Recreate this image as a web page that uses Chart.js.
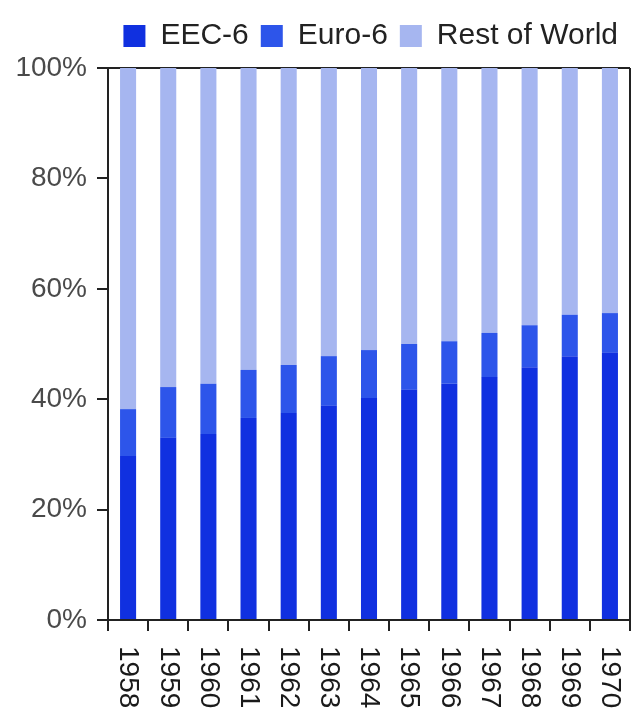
<!DOCTYPE html>
<html lang="en">
<head>
    <meta charset="UTF-8">
    <title>EEC-6 / Euro-6 / Rest of World</title>
    <script src="https://cdn.jsdelivr.net/npm/chart.js"></script>
    <style>
        body {
            margin: 0;
            background: #fff;
        }
        .chart-container {
            position: relative;
            width: 633px;
            height: 710px;
        }
    </style>
</head>
<body>

<div class="chart-container">
    <canvas id="myChart"></canvas>
</div>

<script>
    // values (share of total, %)
    const years = ['1958', '1959', '1960', '1961', '1962', '1963', '1964',
                   '1965', '1966', '1967', '1968', '1969', '1970'];
    const eec6 = [29.7, 33.0, 33.7, 36.6, 37.5, 38.8, 40.2, 41.7, 42.8, 44.0, 45.8, 47.8, 48.4];
    const euro6 = [8.5, 9.2, 9.1, 8.7, 8.7, 9.0, 8.7, 8.3, 7.7, 8.0, 7.6, 7.5, 7.2];
    const restOfWorld = [61.8, 57.8, 57.2, 54.7, 53.8, 52.2, 51.1, 50.0, 49.5, 48.0, 46.6, 44.7, 44.4];
    const yTicks = [0, 20, 40, 60, 80, 100];

    const axisColor = '#222';

    // a bit more room between the legend and the plot
    const legendGap = {
        id: 'legendGap',
        beforeUpdate(chart) {
            const lg = chart.legend;
            if (lg && !lg._gapAdded) {
                const fit = lg.fit.bind(lg);
                lg.fit = function () {
                    fit();
                    this.height += 7;
                };
                lg._gapAdded = true;
            }
        }
    };

    // year labels run top-to-bottom under each bar
    const downLabels = {
        id: 'downLabels',
        afterDraw(chart) {
            const xs = chart.scales.x;
            const ctx = chart.ctx;
            ctx.save();
            ctx.font = '28px "Liberation Sans", Arial, sans-serif';
            ctx.fillStyle = '#1a1a1a';
            ctx.textAlign = 'left';
            ctx.textBaseline = 'middle';
            years.forEach((label, i) => {
                const x = xs.getPixelForTick(i);
                ctx.save();
                ctx.translate(x, xs.top + 26);
                ctx.rotate(Math.PI / 2);
                ctx.fillText(label, 0, 0);
                ctx.restore();
            });
            ctx.restore();
        }
    };

    const config = {
        type: 'bar',
        data: {
            labels: years,
            datasets: [
                { label: 'EEC-6', data: eec6, backgroundColor: '#1030e0', borderWidth: 0 },
                { label: 'Euro-6', data: euro6, backgroundColor: '#2d55ea', borderWidth: 0 },
                { label: 'Rest of World', data: restOfWorld, backgroundColor: '#a6b6f0', borderWidth: 0 }
            ]
        },
        options: {
            responsive: true,
            maintainAspectRatio: false,
            animation: false,
            layout: { padding: { top: 9, right: 3, left: 0, bottom: 0 } },
            barPercentage: 0.4,
            categoryPercentage: 1,
            scales: {
                x: {
                    stacked: true,
                    afterFit: s => { s.height = 90; },
                    ticks: { display: false },
                    border: { color: axisColor, width: 2 },
                    grid: {
                        offset: true,
                        color: c => c.index === undefined ? axisColor : 'transparent',
                        tickColor: axisColor,
                        tickLength: 11,
                        lineWidth: 2
                    }
                },
                y: {
                    stacked: true,
                    min: 0,
                    max: 100,
                    afterFit: s => { s.width = 108; },
                    afterBuildTicks: s => { s.ticks = yTicks.map(v => ({ value: v })); },
                    ticks: {
                        padding: 10,
                        color: '#4a4a4a',
                        font: { size: 28, family: '"Liberation Sans", Arial, sans-serif' },
                        callback: v => v + '%'
                    },
                    border: { color: axisColor, width: 2 },
                    grid: {
                        color: c => c.tick && c.tick.value === 100 ? axisColor : 'transparent',
                        tickColor: axisColor,
                        tickLength: 11,
                        lineWidth: 2
                    }
                }
            },
            plugins: {
                legend: {
                    position: 'top',
                    align: 'end',
                    labels: {
                        boxWidth: 22,
                        boxHeight: 22,
                        padding: 12,
                        color: '#222',
                        font: { size: 30, family: '"Liberation Sans", Arial, sans-serif' }
                    }
                },
                tooltip: { enabled: false }
            }
        },
        plugins: [legendGap, downLabels]
    };

    new Chart(document.getElementById('myChart'), config);
</script>

</body>
</html>
